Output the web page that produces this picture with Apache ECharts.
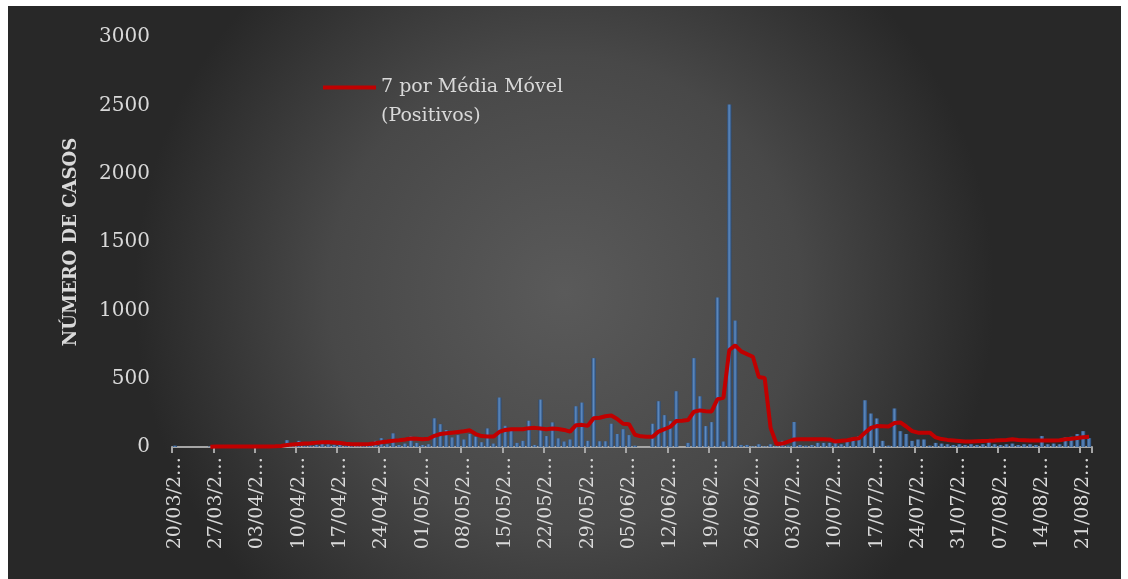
<!DOCTYPE html>
<html>
<head>
<meta charset="utf-8">
<script src="https://cdn.jsdelivr.net/npm/echarts@6/dist/echarts.min.js"></script>
<style>
  html, body { margin: 0; padding: 0; background: #ffffff; }
  #chart { position: absolute; left: 8px; top: 6px; width: 1113px; height: 573px; }
</style>
</head>
<body>
<div id="chart"></div>
<script>
// daily dates 20/03/2020 .. 22/08/2020
const startDate = new Date(2020, 2, 20)
const dayCount = 156
const dates = []
for (let i = 0; i < dayCount; i++) {
  const d = new Date(startDate.getTime() + i * 86400000)
  const dd = String(d.getDate()).padStart(2, '0')
  const mm = String(d.getMonth() + 1).padStart(2, '0')
  dates.push(dd + '/' + mm + '/' + d.getFullYear())
}

const yTicks = [0, 500, 1000, 1500, 2000, 2500, 3000]

// positivos por dia
const positivos = [
  10, 0, 0, 0, 0, 0, 5, 10, 0, 0,
  2, 3, 0, 0, 5, 3, 0, 0, 5, 50,
  5, 45, 8, 10, 15, 45, 20, 15, 20, 10,
  15, 5, 10, 20, 45, 65, 20, 100, 15, 25,
  78, 30, 15, 20, 210, 167, 124, 70, 87, 55,
  95, 75, 35, 136, 25, 362, 155, 124, 30, 45,
  192, 15, 347, 80, 180, 63, 40, 55, 298, 325,
  45, 650, 42, 42, 170, 95, 130, 87, 10, 0,
  0, 170, 335, 233, 189, 408, 0, 30, 650, 371,
  153, 182, 1094, 40, 2507, 925, 15, 15, 5, 20,
  5, 20, 5, 45, 10, 183, 15, 10, 15, 30,
  30, 30, 50, 20, 45, 70, 80, 342, 245, 209,
  45, 10, 282, 116, 95, 45, 55, 55, 10, 30,
  25, 20, 15, 20, 15, 20, 15, 20, 40, 20,
  15, 20, 25, 15, 20, 20, 15, 80, 20, 25,
  20, 70, 75, 95, 116, 65
]

// linha de tendência (média móvel de 7 períodos)
const mediaMovel = [
  null, null, null, null, null, null, 2, 3, 3, 3,
  3, 3, 3, 3, 4, 4, 4, 5, 8, 14,
  18, 22, 25, 28, 32, 34, 34, 33, 30, 24,
  21, 20, 20, 22, 28, 35, 40, 46, 50, 55,
  62, 60, 57, 60, 82, 95, 100, 105, 110, 115,
  122, 95, 80, 76, 76, 110, 125, 130, 130, 130,
  138, 140, 135, 130, 135, 132, 125, 112, 160, 162,
  155, 210, 214, 225, 230, 205, 170, 167, 90, 78,
  75, 75, 113, 130, 148, 190, 192, 197, 258, 268,
  262, 260, 350, 360, 710, 743, 700, 680, 660, 512,
  505, 140, 22, 25, 40, 55, 56, 56, 56, 56,
  56, 55, 40, 45, 50, 58, 64, 104, 140, 153,
  152, 150, 175, 180, 150, 116, 105, 105, 105, 70,
  58, 52, 48, 44, 40, 40, 42, 44, 45, 47,
  50, 52, 56, 52, 50, 48, 48, 48, 48, 48,
  50, 56, 60, 66, 72, 75
]

const barName = 'Positivos'
const lineName = '7 por Média Móvel (Positivos)'

const chart = echarts.init(document.getElementById('chart'))
const fontFamily = '"DejaVu Serif", serif'

chart.setOption({
  backgroundColor: new echarts.graphic.RadialGradient(0.5, 0.5, 0.75, [
    { offset: 0, color: '#5a5a5a' },
    { offset: 0.55, color: '#484848' },
    { offset: 1, color: '#282828' }
  ]),
  animation: false,
  legend: {
    data: [{ name: lineName, icon: 'rect' }],
    left: 315,
    top: 38,
    padding: 0,
    itemWidth: 53,
    itemHeight: 4,
    formatter: name => '\n7 por Média Móvel\n(Positivos)',
    itemStyle: { color: '#c00000' },
    textStyle: {
      color: '#d9d9d9',
      fontFamily: fontFamily,
      fontSize: 19,
      lineHeight: 29
    }
  },
  grid: {
    left: 164,
    right: 29,
    top: 31,
    bottom: 132
  },
  xAxis: {
    type: 'category',
    data: dates,
    boundaryGap: true,
    axisLine: {
      lineStyle: { color: '#a6a6a6', width: 2 }
    },
    axisTick: {
      show: true,
      interval: 6,
      length: 6,
      lineStyle: { color: '#a6a6a6', width: 2 }
    },
    axisLabel: {
      interval: 6,
      rotate: 90,
      margin: 10,
      color: '#d9d9d9',
      fontFamily: fontFamily,
      fontSize: 19,
      formatter: v => v.slice(0, 7) + '…'
    }
  },
  yAxis: {
    type: 'value',
    min: yTicks[0],
    max: yTicks[yTicks.length - 1],
    interval: 500,
    name: 'NÚMERO DE CASOS',
    nameLocation: 'middle',
    nameGap: 92,
    nameTextStyle: {
      color: '#d9d9d9',
      fontFamily: fontFamily,
      fontWeight: 'bold',
      fontSize: 18
    },
    axisLine: { show: false },
    axisTick: { show: false },
    splitLine: { show: false },
    axisLabel: {
      margin: 22,
      color: '#d9d9d9',
      fontFamily: fontFamily,
      fontSize: 20,
      formatter: v => String(v)
    }
  },
  series: [
    {
      name: barName,
      type: 'bar',
      data: positivos,
      barWidth: '72%',
      itemStyle: {
        color: new echarts.graphic.LinearGradient(0, 0, 1, 0, [
          { offset: 0, color: '#284a76' },
          { offset: 0.45, color: '#5f8cc2' },
          { offset: 1, color: '#284a76' }
        ])
      }
    },
    {
      name: lineName,
      type: 'line',
      data: mediaMovel,
      symbol: 'none',
      connectNulls: false,
      lineStyle: { color: '#c00000', width: 4 },
      itemStyle: { color: '#c00000' }
    }
  ]
})
</script>
</body>
</html>
